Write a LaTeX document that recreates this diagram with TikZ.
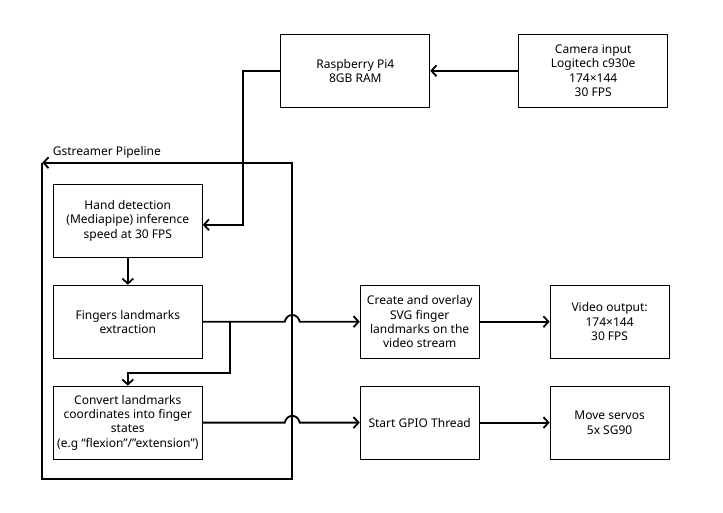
\documentclass[tikz,border=0pt]{standalone}
\usepackage{fontspec}
\setmainfont{Noto Sans}
\usetikzlibrary{positioning}
\usetikzlibrary{arrows.meta}
\tikzset{	x=1pt, y=-1pt,
	node distance=27pt,
	block/.style={
		draw,
		line width=0.9pt,
		minimum width=149pt,
		minimum height=73pt,
		inner sep=0pt,
		align=center,
		font=\fontsize{12}{14.4}\selectfont},
	smallblock/.style={
		block,
		minimum width=119pt},
	flow/.style={
		draw,
		-{Straight Barb[length=5pt,width=11pt]},
		line width=1.8pt},
	every edge/.style={
		flow}
}

\begin{document}
\begin{tikzpicture}
	\useasboundingbox (0,0) rectangle (723,513);
	\node[block] (pi) at (355.3,70.8) {Raspberry Pi4\\8GB RAM};
	\node[block, right=88pt of pi] (cam) {Camera input\\Logitech c930e\\174×144\\30 FPS};
	\node[block] (hand) at (127.8,220.8) {Hand detection\\(Mediapipe) inference\\speed at 30 FPS};
	\node[block, below=of hand] (fingers) {Fingers landmarks\\extraction};
	\node[block, below=of fingers] (convert) {Convert landmarks\\coordinates into finger\\states\\(e.g “flexion”/”extension”)};
	\node[smallblock, right=157pt of fingers] (overlay) {Create and overlay\\SVG finger\\landmarks on the\\video stream};
	\node[smallblock, right=70pt of overlay] (video) {Video output:\\174×144\\30 FPS};
	\node[smallblock, below=of overlay] (gpio) {Start GPIO Thread};
	\node[smallblock, right=70pt of gpio] (servos) {Move servos\\5x SG90};
	\coordinate (ptl) at (42.3,162.7);
	\coordinate (pbr) at (291.7,479);
	\draw[flow] (ptl) |- (pbr) |- (ptl);
	\node[anchor=base west, inner sep=0pt, font=\fontsize{12}{14.4}\selectfont] (plabel) at (52.7,155.5) {Gstreamer Pipeline};
	\draw (cam) edge (pi);
	\draw[flow] (pi.west) -- ++(-37.4,0) |- ([yshift=-4pt]hand.east);
	\draw (hand) edge (fingers);
	\draw[flow] (fingers.east) -- ++(82,0) .. controls +(2,-9) and +(-2,-9) .. ++(15,0) -- (overlay.west);
	\draw[flow] ([xshift=27pt]fingers.east) -- ++(0,51.5) -| (convert.north);
	\draw[flow] (convert.east) -- ++(82,0) .. controls +(2,-9) and +(-2,-9) .. ++(15,0) -- (gpio.west);
	\draw (overlay) edge (video);
	\draw (gpio) edge (servos);
\end{tikzpicture}
\end{document}
